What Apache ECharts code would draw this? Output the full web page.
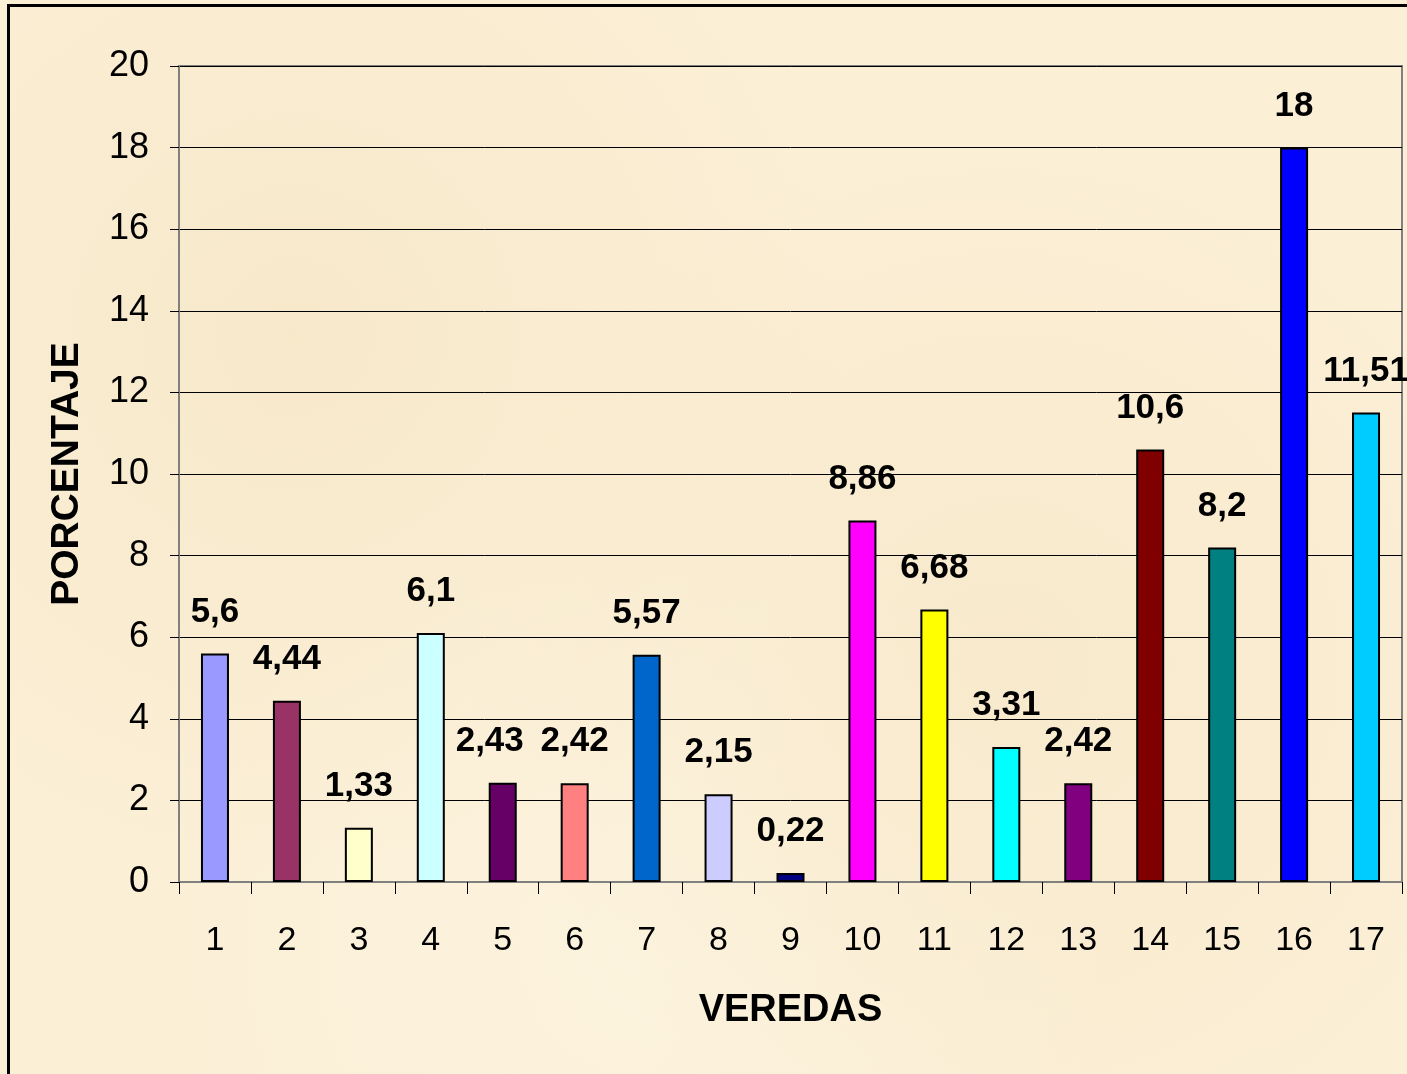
<!DOCTYPE html>
<html>
<head>
<meta charset="utf-8">
<script src="https://cdn.jsdelivr.net/npm/echarts@6/dist/echarts.min.js"></script>
<style>
  html, body {
    margin: 0;
    padding: 0;
    width: 1407px;
    height: 1074px;
    overflow: hidden;
    background: #fbefd6;
  }
  .frame {
    position: absolute;
    left: 7px;
    top: 4px;
    width: 1420px;
    height: 1100px;
    border-left: 3px solid #000;
    border-top: 3px solid #000;
    background:
      radial-gradient(circle at 20% 30%, rgba(240, 220, 180, 0.35), transparent 40%),
      radial-gradient(circle at 70% 60%, rgba(240, 220, 180, 0.3), transparent 45%),
      radial-gradient(circle at 45% 85%, rgba(255, 250, 235, 0.4), transparent 40%),
      #fbefd6;
  }
  #chart {
    position: absolute;
    left: 0;
    top: 0;
    width: 1407px;
    height: 1074px;
  }
</style>
</head>
<body>
<div class="frame"></div>
<div id="chart"></div>
<script>
// 类目（veredas）
var categories = ["1", "2", "3", "4", "5", "6", "7", "8", "9", "10", "11", "12", "13", "14", "15", "16", "17"];
// 百分比
var values = [5.6, 4.44, 1.33, 6.1, 2.43, 2.42, 5.57, 2.15, 0.22, 8.86, 6.68, 3.31, 2.42, 10.6, 8.2, 18, 11.51];
// 柱子颜色
var barColors = [
  "#9999ff", "#993366", "#ffffcc", "#ccffff", "#660066", "#ff8080",
  "#0066cc", "#ccccff", "#000080", "#ff00ff", "#ffff00", "#00ffff",
  "#800080", "#800000", "#008080", "#0000ff", "#00ccff"
];
var yTicks = [0, 2, 4, 6, 8, 10, 12, 14, 16, 18, 20];

var font = "'Liberation Sans', Arial, sans-serif";

var myChart = echarts.init(document.getElementById("chart"));
var option = {
  animation: false,
  textStyle: { fontFamily: font },
  grid: {
    left: 179,
    right: 5,
    top: 66,
    bottom: 192,
    show: true,
    borderColor: "#808080",
    borderWidth: 2,
    backgroundColor: "transparent",
  },
  xAxis: {
    type: "category",
    data: categories,
    name: "VEREDAS",
    nameLocation: "middle",
    nameGap: 110,
    nameTextStyle: {
      fontFamily: font,
      fontWeight: "bold",
      fontSize: 38,
      color: "#000",
    },
    axisLine: { lineStyle: { color: "#808080", width: 2 } },
    axisTick: {
      show: true,
      alignWithLabel: false,
      length: 12,
      lineStyle: { color: "#000", width: 1 },
    },
    axisLabel: {
      margin: 42,
      fontSize: 34,
      color: "#000",
      fontFamily: font,
    },
  },
  yAxis: {
    type: "value",
    min: yTicks[0],
    max: yTicks[yTicks.length - 1],
    interval: 2,
    name: "PORCENTAJE",
    nameLocation: "middle",
    nameRotate: 90,
    nameGap: 92,
    nameTextStyle: {
      fontFamily: font,
      fontWeight: "bold",
      fontSize: 39,
      color: "#000",
    },
    axisLine: { show: true, lineStyle: { color: "#808080", width: 2 } },
    axisTick: {
      show: true,
      length: 9,
      lineStyle: { color: "#000", width: 1 },
    },
    axisLabel: {
      margin: 30,
      fontSize: 36,
      color: "#000",
      fontFamily: font,
    },
    splitLine: {
      show: true,
      lineStyle: { color: "#000", width: 1 },
    },
  },
  series: [
    {
      type: "bar",
      barWidth: 28,
      data: values.map(function (v, i) {
        var item = {
          value: v,
          itemStyle: {
            color: barColors[i],
            borderColor: "#000",
            borderWidth: 2,
          },
        };
        // 第5个标签略向左偏移，避免与第6个重叠
        if (i === 4) {
          item.label = { offset: [-13, 0] };
        }
        return item;
      }),
      label: {
        show: true,
        position: "top",
        distance: 24,
        fontFamily: font,
        fontWeight: "bold",
        fontSize: 35,
        color: "#000",
        formatter: function (p) {
          return String(p.value).replace(".", ",");
        },
      },
    },
  ],
};
myChart.setOption(option);
window.onresize = myChart.resize;
</script>
</body>
</html>
